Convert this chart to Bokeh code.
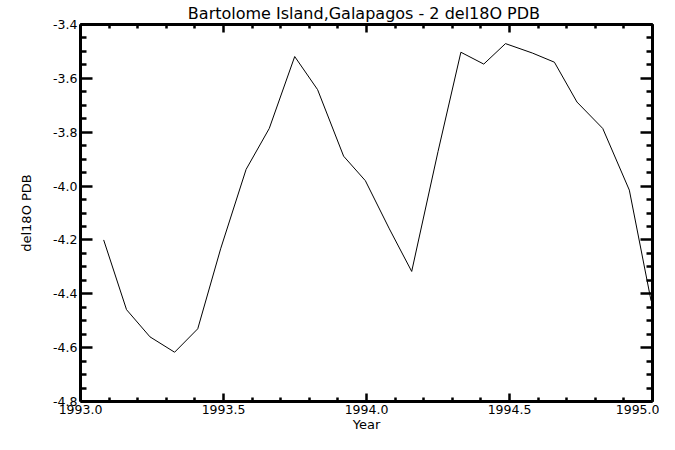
from bokeh.plotting import figure
from bokeh.models import Range1d, LinearAxis, FixedTicker, PrintfTickFormatter
from bokeh.embed import file_html
from bokeh.resources import INLINE

# ---- data ----
years = [1993.081, 1993.161, 1993.243, 1993.329, 1993.410, 1993.490,
         1993.579, 1993.660, 1993.749, 1993.829, 1993.920, 1993.996,
         1994.080, 1994.158, 1994.250, 1994.330, 1994.410, 1994.486,
         1994.580, 1994.657, 1994.736, 1994.826, 1994.919, 1994.995]
del18o = [-4.200, -4.459, -4.560, -4.617, -4.530, -4.233,
          -3.938, -3.786, -3.519, -3.642, -3.889, -3.980,
          -4.159, -4.317, -3.872, -3.503, -3.547, -3.471,
          -3.506, -3.540, -3.688, -3.786, -4.015, -4.426]

x_major = [1993.0, 1993.5, 1994.0, 1994.5, 1995.0]
x_minor = [1993.1, 1993.2, 1993.3, 1993.4, 1993.6, 1993.7, 1993.8, 1993.9,
           1994.1, 1994.2, 1994.3, 1994.4, 1994.6, 1994.7, 1994.8, 1994.9]
y_major = [-4.8, -4.6, -4.4, -4.2, -4.0, -3.8, -3.6, -3.4]
y_minor = [-4.75, -4.70, -4.65, -4.55, -4.50, -4.45, -4.35, -4.30, -4.25,
           -4.15, -4.10, -4.05, -3.95, -3.90, -3.85, -3.75, -3.70, -3.65,
           -3.55, -3.50, -3.45]

title_text = "Bartolome Island,Galapagos - 2  del18O PDB"
x_label = "Year"
y_label = "del18O PDB"

FONT = "DejaVu Sans"

p = figure(width=659, height=434, output_backend="svg", toolbar_location=None,
           x_range=Range1d(1993.0, 1995.0), y_range=Range1d(-4.8, -3.4),
           min_border_left=80, min_border_right=7, min_border_top=24,
           min_border_bottom=33)
p.outline_line_color = None
p.xgrid.visible = False
p.ygrid.visible = False
p.background_fill_color = "white"
p.border_fill_color = "white"

p.title.text = title_text
p.title.align = "center"
p.title.text_font = FONT
p.title.text_font_size = "16px"
p.title.text_font_style = "normal"
p.title.text_color = "black"
p.title.standoff = 3

p.line(years, del18o, line_color="black", line_width=1)


def style(ax, ticker, major_len, minor_len):
    ax.ticker = ticker
    ax.axis_line_color = "black"
    ax.axis_line_width = 3
    ax.major_tick_line_color = "black"
    ax.minor_tick_line_color = "black"
    ax.major_tick_line_width = 2.5
    ax.minor_tick_line_width = 2.5
    ax.major_tick_in = major_len
    ax.major_tick_out = 0
    ax.minor_tick_in = minor_len
    ax.minor_tick_out = 0


xa = p.xaxis[0]
ya = p.yaxis[0]
style(xa, FixedTicker(ticks=x_major, minor_ticks=x_minor), 8, 4)
style(ya, FixedTicker(ticks=y_major, minor_ticks=y_minor), 12, 6)
for ax in (xa, ya):
    ax.formatter = PrintfTickFormatter(format="%.1f")
    ax.major_label_text_font = FONT
    ax.major_label_text_font_size = "12.5px"
    ax.major_label_text_color = "black"
    ax.axis_label_text_font = FONT
    ax.axis_label_text_font_size = "13px"
    ax.axis_label_text_font_style = "normal"
    ax.axis_label_text_color = "black"
xa.axis_label = x_label
ya.axis_label = y_label
xa.major_label_standoff = 3
xa.axis_label_standoff = 0
ya.major_label_standoff = 3
ya.axis_label_standoff = 16

# Mirrored tick marks on the top and right sides (no labels):
# one axis carries the long (major) marks, one the short (minor) marks.
for loc, majors, minors, mlen, nlen in (("above", x_major, x_minor, 8, 4),
                                        ("right", y_major, y_minor, 12, 6)):
    long_ax = LinearAxis()
    style(long_ax, FixedTicker(ticks=[], minor_ticks=majors), 0, mlen)
    short_ax = LinearAxis()
    style(short_ax, FixedTicker(ticks=[], minor_ticks=minors), 0, nlen)
    for ax in (long_ax, short_ax):
        ax.major_label_standoff = 0
        ax.axis_label_standoff = 0
        p.add_layout(ax, loc)

open("out.html", "w").write(file_html(p, INLINE))
